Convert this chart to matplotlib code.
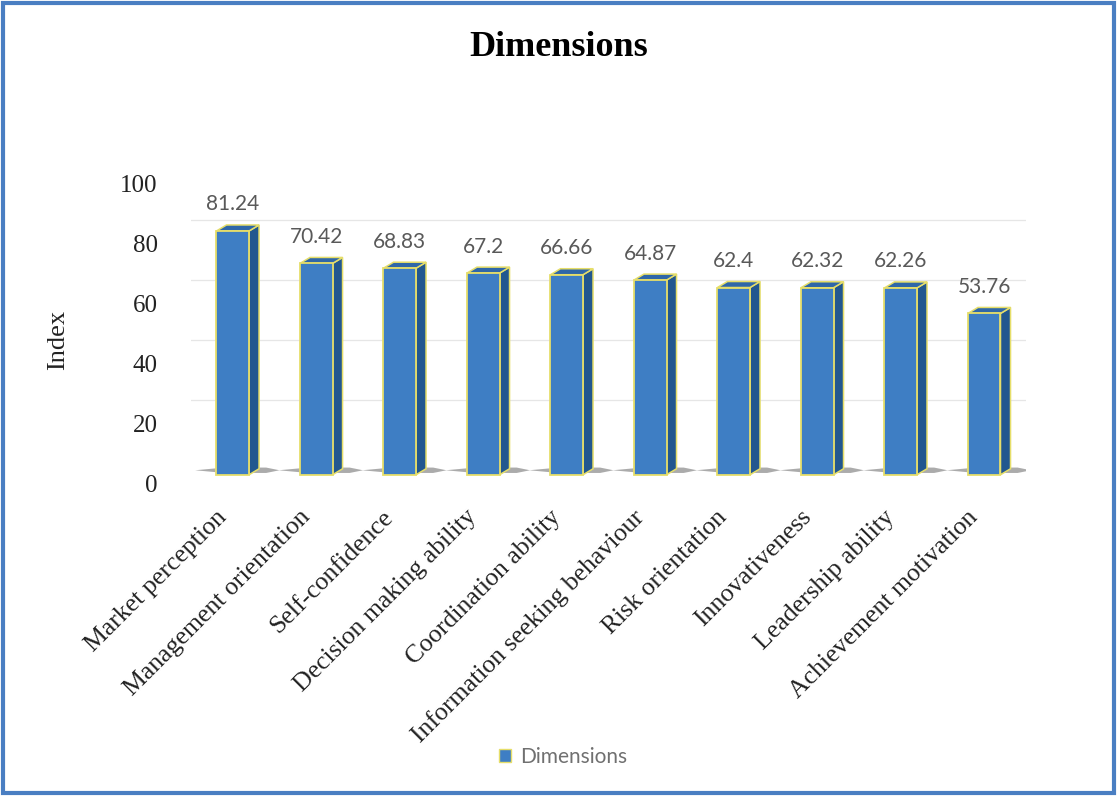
import matplotlib.pyplot as plt
import matplotlib.transforms as mtransforms
import numpy as np
from matplotlib.patches import Polygon, Rectangle

# ___DATA___ #
CATEGORIES = ['Market perception', 'Management orientation', 'Self-confidence',
              'Decision making ability', 'Coordination ability',
              'Information seeking behaviour', 'Risk orientation', 'Innovativeness',
              'Leadership ability', 'Achievement motivation']
VALUES = [81.24, 70.42, 68.83, 67.2, 66.66, 64.87, 62.4, 62.32, 62.26, 53.76]
VALUE_LABELS = ['81.24', '70.42', '68.83', '67.2', '66.66', '64.87', '62.4', '62.32', '62.26', '53.76']
Y_TICKS = [0, 20, 40, 60, 80, 100]

# ___STYLE___ #
FRONT = '#3E7EC4'
SIDE = '#22578F'
TOP = '#2F67A8'
EDGE = '#E6DE6A'
BAR_W = 0.39
DEPTH_X = 0.12    # 3d depth in x data units
DEPTH_Y = 2.0     # 3d depth in y data units
FLOOR = 2.8       # front edge of the 3d floor sits a little above the "0" label
WALL = 7.7        # gridlines live on the back wall, shifted up
SERIF = 'Liberation Serif'

fig = plt.figure(figsize=(11.17, 7.96), dpi=100)
ax = fig.add_axes([0.171, 0.393, 0.7475, 0.377])

x = np.arange(len(CATEGORIES))

# faint back-wall gridlines
for t in Y_TICKS[1:-1]:
    ax.axhline(t + WALL, color='#E6E6E6', lw=0.9, zorder=0)

# thin base shadow streaks
for xi in x:
    sy = FLOOR + 1.5
    ax.add_patch(Polygon([[xi - 0.45, sy], [xi - 0.1, sy - 0.9], [xi + 0.4, sy - 0.9],
                          [xi + 0.56, sy], [xi + 0.4, sy + 0.9], [xi - 0.1, sy + 0.9]],
                         closed=True, facecolor='#7F7F7F', edgecolor='none', alpha=0.65, zorder=1))

bars = ax.bar(x, VALUES, BAR_W, bottom=FLOOR, color=FRONT, edgecolor=EDGE, linewidth=1.3,
              zorder=3, label='Dimensions')

# pseudo-3d side and top faces
for xi, v in zip(x, VALUES):
    r = xi + BAR_W / 2
    l = xi - BAR_W / 2
    b = FLOOR
    t = FLOOR + v
    side = Polygon([[r, b], [r + DEPTH_X, b + DEPTH_Y], [r + DEPTH_X, t + DEPTH_Y], [r, t]],
                   closed=True, facecolor=SIDE, edgecolor=EDGE, lw=1.1, zorder=2)
    top = Polygon([[l, t], [l + DEPTH_X, t + DEPTH_Y], [r + DEPTH_X, t + DEPTH_Y], [r, t]],
                  closed=True, facecolor=TOP, edgecolor=EDGE, lw=1.1, zorder=2)
    ax.add_patch(side)
    ax.add_patch(top)

for xi, v, lab in zip(x, VALUES, VALUE_LABELS):
    ax.text(xi, FLOOR + v + 5.5, lab, ha='center', va='bottom',
            fontsize=15, color='#595959', family='Lato')

ax.set_xlim(-0.5, len(CATEGORIES) - 0.5)
ax.set_ylim(0, 100)
ax.set_yticks(Y_TICKS)
ax.set_yticklabels([str(t) for t in Y_TICKS], family=SERIF, fontsize=18, color='#222222')
ax.set_xticks(x)
ax.set_xticklabels(CATEGORIES, rotation=45, ha='right', va='center', rotation_mode='anchor',
                   family=SERIF, fontsize=18.5, color='#222222')
ax.tick_params(axis='both', length=0)
ax.tick_params(axis='y', pad=24)
ax.tick_params(axis='x', pad=22)
shift = mtransforms.ScaledTranslation(-7 / 72, 0, fig.dpi_scale_trans)
for lbl in ax.get_xticklabels():
    lbl.set_transform(lbl.get_transform() + shift)
for s in ax.spines.values():
    s.set_visible(False)

fig.text(0.052, 0.573, 'Index', rotation=90, ha='center', va='center', family=SERIF,
         fontsize=19, color='#222222')
fig.text(0.5, 0.94, 'Dimensions', ha='center', va='center', family=SERIF,
         fontsize=26, fontweight='bold')

leg = fig.legend(handles=[Rectangle((0, 0), 1, 1, facecolor=FRONT, edgecolor=EDGE, lw=1)],
                 labels=['Dimensions'], loc='center', bbox_to_anchor=(0.504, 0.049),
                 frameon=False, handlelength=0.6, handleheight=0.6, handletextpad=0.4,
                 prop={'family': 'Lato', 'size': 15})
for t in leg.get_texts():
    t.set_color('#707070')

# outer blue frame
fig.patches.append(Rectangle((0.003, 0.004), 0.994, 0.992, transform=fig.transFigure,
                             fill=False, edgecolor='#4A7EC2', lw=3))

fig.savefig('out.png', dpi=100)
